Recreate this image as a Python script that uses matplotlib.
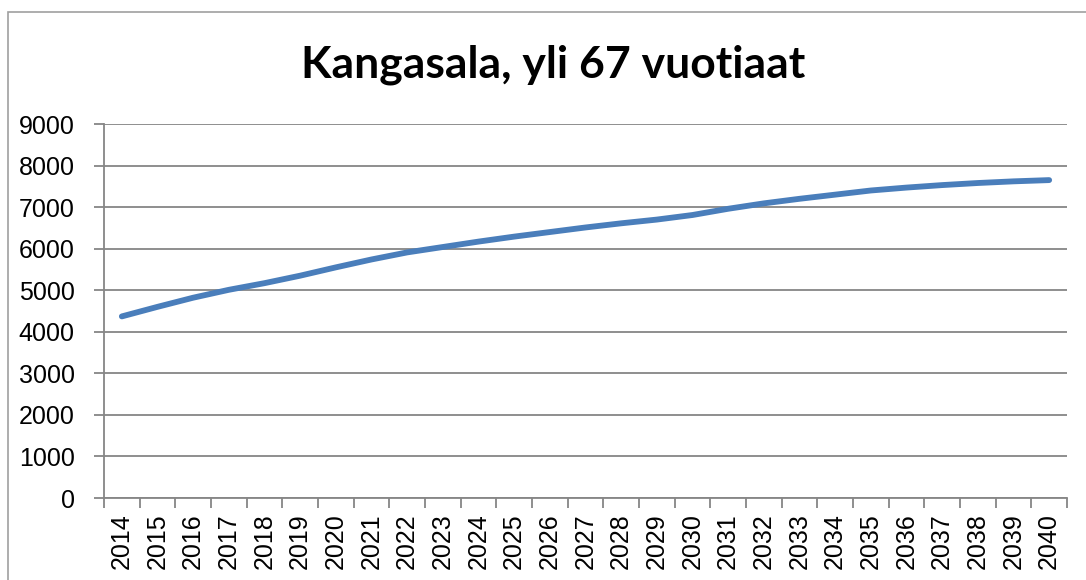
import numpy as np
import matplotlib
matplotlib.use('Agg')
import matplotlib.pyplot as plt
from matplotlib.patches import Rectangle

# data
years = list(range(2014, 2041))
values = [4370, 4600, 4820, 5010, 5170, 5350, 5550, 5740, 5910, 6040,
          6170, 6290, 6400, 6510, 6610, 6700, 6810, 6960, 7090, 7200,
          7300, 7400, 7470, 7530, 7580, 7620, 7650]
title = 'Kangasala, yli 67 vuotiaat'
yticks = list(range(0, 9001, 1000))

grid_col = '#868686'
line_col = '#4a7ebb'

fig = plt.figure(figsize=(10.86, 5.80), dpi=100)
# outer chart frame
fig.patches.append(Rectangle((8 / 1086, -0.1), 1.2, 1 - 12 / 580 + 0.1,
                             transform=fig.transFigure, fill=False,
                             edgecolor='#a0a0a0', linewidth=1.2))

ax = fig.add_axes([104 / 1086, 1 - 498 / 580, (1067 - 104) / 1086, (498 - 124) / 580])

x = np.arange(len(years))
ax.plot(x, values, color=line_col, linewidth=4.2, solid_capstyle='round')

ax.set_xlim(-0.5, len(years) - 0.5)
ax.set_ylim(0, 9000)
ax.set_yticks(yticks)
ax.set_yticklabels([str(v) for v in yticks], fontsize=18, family='Liberation Sans')
ax.yaxis.grid(True, color=grid_col, linewidth=1.3)
ax.set_axisbelow(True)

# category axis: ticks between categories, labels centred
ax.set_xticks(np.arange(len(years) + 1) - 0.5)
ax.set_xticklabels([])
ax.set_xticks(x, minor=True)
ax.set_xticklabels([str(y) for y in years], minor=True, rotation=90,
                   fontsize=18, family='Liberation Sans')
ax.tick_params(axis='x', which='major', length=7, color=grid_col, width=1.3)
ax.tick_params(axis='x', which='minor', length=0, pad=11)
ax.tick_params(axis='y', length=7, color=grid_col, width=1.3, pad=14)

for s in ['top', 'right']:
    ax.spines[s].set_visible(False)
for s in ['left', 'bottom']:
    ax.spines[s].set_color(grid_col)
    ax.spines[s].set_linewidth(1.3)

fig.text(553 / 1086, 1 - 65 / 580, title, ha='center', va='center',
         fontsize=32, fontweight='bold', family='Lato')

fig.savefig('out.png', dpi=100)
